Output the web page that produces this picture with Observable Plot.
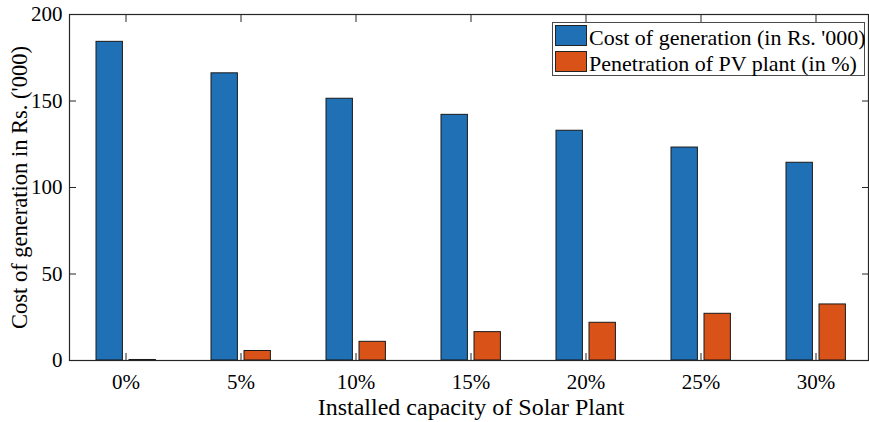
<!DOCTYPE html>
<html>
<head>
<meta charset="utf-8">
<script src="https://cdn.jsdelivr.net/npm/d3@7"></script>
<script src="https://cdn.jsdelivr.net/npm/@observablehq/plot@0.6"></script>
<style>
  html, body { margin: 0; padding: 0; background: #fff; }
  #wrap { position: relative; width: 869px; height: 422px; font-family: "Liberation Serif", "Times New Roman", serif; }
  .legend { position: absolute; left: 552px; top: 22px; width: 313px; height: 54px; border: 1px solid #4a4a4a; background: #fff; box-sizing: border-box; }
  .legend .sw { position: absolute; left: 2px; width: 32px; height: 21px; border: 1px solid #222; box-sizing: border-box; }
  .legend .lab { position: absolute; left: 36px; font-size: 22px; line-height: 22px; color: #000; white-space: nowrap; }
</style>
</head>
<body>
<div id="wrap"></div>
<script>
const categories = ["0%", "5%", "10%", "15%", "20%", "25%", "30%"];
const costOfGeneration = [184.2, 166.0, 151.3, 142.0, 132.8, 123.1, 114.3];
const pvPenetration = [0.3, 5.5, 10.8, 16.4, 21.8, 27.0, 32.4];
const seriesNames = ["Cost of generation (in Rs. '000)", "Penetration of PV plant (in %)"];
const seriesColors = ["#1f70b5", "#d95319"];
const yTicks = [0, 50, 100, 150, 200];
const yLabel = "Cost of generation in Rs. ('000)";
const xLabel = "Installed capacity of Solar Plant";

const costRows = categories.map((c, i) => ({cat: c, value: costOfGeneration[i]}));
const penRows = categories.map((c, i) => ({cat: c, value: pvPenetration[i]}));

const W = 869, H = 422;
const mL = 69, mR = 1, mT = 14, mB = 62;

const chart = Plot.plot({
  width: W,
  height: H,
  marginLeft: mL,
  marginRight: mR,
  marginTop: mT,
  marginBottom: mB,
  style: {fontFamily: "'Liberation Serif', 'Times New Roman', serif", fontSize: "21px", color: "#000", background: "#fff"},
  x: {type: "band", domain: categories, range: [67.8, 873.5], padding: 0, label: null},
  y: {domain: [0, 200], label: null},
  marks: [
    Plot.barY(costRows, {x: "cat", y: "value", fill: seriesColors[0], stroke: "#1a1a1a", strokeWidth: 1, insetLeft: 28, insetRight: 60.6}),
    Plot.barY(penRows, {x: "cat", y: "value", fill: seriesColors[1], stroke: "#1a1a1a", strokeWidth: 1, insetLeft: 61, insetRight: 27.6}),
    Plot.frame({stroke: "#262626", strokeWidth: 1.2}),
    Plot.axisY({anchor: "left", ticks: yTicks, tickSize: 0, tickPadding: 7, fontSize: 21, label: null}),
    Plot.axisY({anchor: "left", ticks: yTicks, tickSize: -7, tickFormat: () => "", label: null, stroke: "#262626"}),
    Plot.axisY({anchor: "right", ticks: yTicks, tickSize: -7, tickFormat: () => "", label: null, stroke: "#262626"}),
    Plot.axisX({anchor: "bottom", tickSize: 0, tickPadding: 14, fontSize: 21, label: null}),
    Plot.axisX({anchor: "bottom", tickSize: -7, tickFormat: () => "", label: null, stroke: "#262626"}),
    Plot.axisX({anchor: "top", tickSize: -7, tickFormat: () => "", label: null, stroke: "#262626"}),
    Plot.text([yLabel], {frameAnchor: "left", textAnchor: "middle", lineAnchor: "middle", rotate: -90, dx: -50, fontSize: 22.5, fill: "#000"}),
    Plot.text([xLabel], {frameAnchor: "bottom", textAnchor: "middle", lineAnchor: "middle", dy: 47.3, dx: 2, fontSize: 24, fill: "#000"})
  ]
});

const wrap = document.getElementById("wrap");
wrap.appendChild(chart);

const legend = document.createElement("div");
legend.className = "legend";
seriesNames.forEach((name, i) => {
  const sw = document.createElement("div");
  sw.className = "sw";
  sw.style.background = seriesColors[i];
  sw.style.top = (2 + i * 26) + "px";
  const t = document.createElement("div");
  t.className = "lab";
  t.style.top = (3.6 + i * 26.5) + "px";
  t.textContent = name;
  legend.appendChild(sw);
  legend.appendChild(t);
});
wrap.appendChild(legend);
</script>
</body>
</html>
